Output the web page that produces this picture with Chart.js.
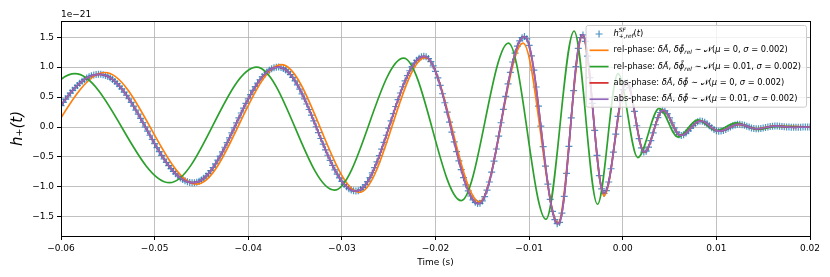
<!DOCTYPE html>
<html>
<head>
<meta charset="utf-8">
<script src="https://cdn.jsdelivr.net/npm/chart.js@4.4.1/dist/chart.umd.min.js"></script>
<style>
  html, body { margin: 0; padding: 0; background: #fff; }
  #wrap { width: 830px; height: 277px; }
</style>
</head>
<body>
<div id="wrap"><canvas id="strain" width="830" height="277"></canvas></div>
<script>
// h+ in units of 1e-21; reference waveform sampled every 0.25 ms from t = -0.06 s
const SAMPLE_START = -0.06;
const SAMPLE_STEP  = 0.00025;
const refStrain = [
  0.357, 0.412, 0.466, 0.518, 0.566, 0.612, 0.655, 0.695, 0.731, 0.763, 0.792, 0.817, 0.838, 0.855, 0.867, 0.876, 0.880,
  0.879, 0.873, 0.861, 0.844, 0.822, 0.794, 0.761, 0.723, 0.681, 0.635, 0.584, 0.530, 0.472, 0.411, 0.348, 0.282, 0.214, 0.145, 0.075, 0.003,
  -0.068, -0.138, -0.209, -0.278, -0.344, -0.410, -0.473, -0.534, -0.591, -0.645, -0.694, -0.740, -0.782, -0.818, -0.850, -0.876, -0.898, -0.914, -0.925, -0.930,
  -0.929, -0.921, -0.906, -0.884, -0.855, -0.819, -0.778, -0.730, -0.676, -0.617, -0.553, -0.486, -0.414, -0.338, -0.260, -0.180, -0.098, -0.015,
  0.068, 0.151, 0.234, 0.314, 0.393, 0.468, 0.541, 0.610, 0.675, 0.735, 0.789, 0.839, 0.881, 0.918, 0.949, 0.972, 0.988, 0.998,
  1.000, 0.993, 0.978, 0.953, 0.919, 0.877, 0.827, 0.769, 0.704, 0.632, 0.554, 0.471, 0.384, 0.292, 0.198, 0.102, 0.004,
  -0.094, -0.192, -0.287, -0.381, -0.472, -0.558, -0.640, -0.717, -0.787, -0.851, -0.908, -0.957, -0.997, -1.029, -1.052, -1.065, -1.070,
  -1.063, -1.044, -1.012, -0.967, -0.911, -0.844, -0.766, -0.678, -0.582, -0.479, -0.370, -0.256, -0.138, -0.018,
  0.103, 0.223, 0.342, 0.458, 0.568, 0.672, 0.770, 0.859, 0.939, 1.008, 1.067, 1.114, 1.149, 1.171, 1.180,
  1.173, 1.144, 1.093, 1.021, 0.929, 0.820, 0.694, 0.555, 0.405, 0.247, 0.083,
  -0.084, -0.249, -0.411, -0.567, -0.712, -0.846, -0.966, -1.068, -1.152, -1.216, -1.258, -1.278,
  -1.274, -1.234, -1.161, -1.054, -0.918, -0.755, -0.569, -0.367, -0.152, 0.071, 0.293, 0.512, 0.721, 0.913, 1.085, 1.233, 1.352, 1.439, 1.492, 1.510,
  1.473, 1.364, 1.187, 0.951, 0.668, 0.350, 0.013, -0.327, -0.654, -0.953, -1.209, -1.410, -1.548, -1.614,
  -1.594, -1.439, -1.157, -0.774, -0.325, 0.151, 0.609, 1.008, 1.312, 1.494,
  1.537, 1.430, 1.183, 0.825, 0.395, -0.056, -0.473, -0.812, -1.033, -1.110,
  -1.061, -0.918, -0.697, -0.421, -0.119, 0.176, 0.433, 0.625, 0.732,
  0.742, 0.655, 0.485, 0.261, 0.021, -0.194, -0.350, -0.418,
  -0.403, -0.336, -0.229, -0.097, 0.038, 0.157, 0.242, 0.279,
  0.269, 0.224, 0.154, 0.070, -0.014, -0.084, -0.129,
  -0.140, -0.128, -0.102, -0.064, -0.020, 0.024, 0.062, 0.088, 0.100,
  0.096, 0.080, 0.054, 0.022, -0.011, -0.040, -0.061, -0.070,
  -0.067, -0.057, -0.041, -0.021, 0.000, 0.020, 0.035, 0.044,
  0.045, 0.039, 0.028, 0.014, -0.002, -0.016, -0.025, -0.030,
  -0.029, -0.025, -0.018, -0.009, -0.001, 0.007, 0.013, 0.015,
  0.015, 0.013, 0.010, 0.006, 0.002, -0.001, -0.004, -0.005,
  -0.005, -0.004, -0.003, -0.002, -0.001, 0.000, 0.000
];

// rel-phase, mu = 0 : turning points (first two lie left of the axis)
const relMu0Time   = [-0.0768, -0.0658, -0.0553, -0.0455, -0.03645, -0.0281, -0.0211, -0.0153, -0.01065, -0.0069, -0.0043, -0.0020,
                      0.0004, 0.0023, 0.0043, 0.0062, 0.0083, 0.0103, 0.0124, 0.0143, 0.0163, 0.0200];
const relMu0Strain = [0.85, -0.88, 0.91, -0.955, 1.04, -1.09, 1.16, -1.25, 1.40, -1.60, 1.53, -1.15,
                      0.75, -0.42, 0.28, -0.14, 0.10, -0.07, 0.045, -0.03, 0.015, 0.0];

// rel-phase, mu = 0.01
const relMu1Time   = [-0.0802, -0.0692, -0.0585, -0.0484, -0.0391, -0.0308, -0.0234, -0.01725, -0.0122, -0.0082, -0.0052, -0.0027,
                      -0.0005, 0.0016, 0.0039, 0.0059, 0.0080, 0.0100, 0.0121, 0.0144, 0.0165, 0.0200];
const relMu1Strain = [0.85, -0.86, 0.89, -0.93, 1.00, -1.055, 1.15, -1.23, 1.40, -1.54, 1.60, -1.29,
                      0.89, -0.51, 0.31, -0.17, 0.12, -0.06, 0.07, -0.04, 0.01, 0.0];

const timeTicks   = [-0.06, -0.05, -0.04, -0.03, -0.02, -0.01, 0.00, 0.01, 0.02];
const strainTicks = [-1.5, -1.0, -0.5, 0.0, 0.5, 1.0, 1.5];

// legend text, split in runs: '' upright, 'i' italic, 'p' superscript, 'b' subscript, 'k' = don't advance
const legendLabels = [
  [['h', 'i'], ['SF', 'ipk'], ['+,ref', 'ib'], ['(', ''], ['t', 'i'], [')', '']],
  [['rel-phase: ', ''], ['δÃ', 'i'], [', ', ''], ['δϕ̃', 'i'], ['rel', 'ib'], [' ∼ ', ''], ['𝒩', ''], ['(', ''], ['μ', 'i'], [' = 0, ', ''], ['σ', 'i'], [' = 0.002)', '']],
  [['rel-phase: ', ''], ['δÃ', 'i'], [', ', ''], ['δϕ̃', 'i'], ['rel', 'ib'], [' ∼ ', ''], ['𝒩', ''], ['(', ''], ['μ', 'i'], [' = 0.01, ', ''], ['σ', 'i'], [' = 0.002)', '']],
  [['abs-phase: ', ''], ['δÃ', 'i'], [', ', ''], ['δϕ̃', 'i'], [' ∼ ', ''], ['𝒩', ''], ['(', ''], ['μ', 'i'], [' = 0, ', ''], ['σ', 'i'], [' = 0.002)', '']],
  [['abs-phase: ', ''], ['δÃ', 'i'], [', ', ''], ['δϕ̃', 'i'], [' ∼ ', ''], ['𝒩', ''], ['(', ''], ['μ', 'i'], [' = 0.01, ', ''], ['σ', 'i'], [' = 0.002)', '']]
];

const FONT = '"DejaVu Sans", sans-serif';
const COLORS = ['#1f77b4', '#ff7f0e', '#2ca02c', '#d62728', '#9467bd'];

const refPoints = refStrain.map((h, i) => ({ x: SAMPLE_START + i * SAMPLE_STEP, y: h }));
const toPoints  = (ts, hs) => ts.map((t, i) => ({ x: t, y: hs[i] }));

const fmt = (v, d) => (v < -1e-9 ? '\u2212' : '') + Math.abs(v).toFixed(d);

// draws (or just measures) a run list, returns end x
const drawRich = (ctx, runs, x, y, size, measureOnly) => {
  let end = x;
  runs.forEach(([txt, kind]) => {
    const sub = kind.includes('b'), sup = kind.includes('p');
    const fs = (sub || sup) ? size * 0.7 : size;
    ctx.font = `${kind.includes('i') ? 'italic ' : ''}${fs}px ${FONT}`;
    const dy = sub ? size * 0.3 : sup ? -size * 0.38 : 0;
    const w = ctx.measureText(txt).width;
    if (!measureOnly) ctx.fillText(txt, x, y + dy);
    end = Math.max(end, x + w);
    if (!kind.includes('k')) x += w;
  });
  return Math.max(end, x);
};

const decor = {
  id: 'decor',
  afterDatasetsDraw(chart) {
    const { ctx, chartArea: a } = chart;
    ctx.save();
    ctx.strokeStyle = '#000';
    ctx.lineWidth = 1;
    ctx.strokeRect(Math.round(a.left) + 0.5, Math.round(a.top) + 0.5,
                   Math.round(a.right - a.left), Math.round(a.bottom - a.top));
    ctx.restore();
  },
  afterDraw(chart) {
    const { ctx, chartArea: a } = chart;
    ctx.save();
    // offset text of the y axis
    ctx.fillStyle = '#000';
    ctx.font = `9px ${FONT}`;
    ctx.textBaseline = 'alphabetic';
    ctx.fillText('1e\u221221', a.left, a.top - 4);

    // legend box, upper right
    const size = 8.3, rowH = 16.3, handle = 19;
    let textW = 0;
    legendLabels.forEach(r => { textW = Math.max(textW, drawRich(ctx, r, 0, 0, size, true)); });
    const boxW = 4 + handle + 5 + textW + 5;
    const boxH = 9 + rowH * (legendLabels.length - 1) + 7.5;
    const bx = a.right - 4 - boxW, by = a.top + 4;
    ctx.beginPath();
    ctx.roundRect(bx + 0.5, by + 0.5, boxW, boxH, 2);
    ctx.fillStyle = 'rgba(255,255,255,0.8)';
    ctx.fill();
    ctx.strokeStyle = '#cccccc';
    ctx.lineWidth = 1;
    ctx.stroke();

    ctx.textBaseline = 'middle';
    chart.data.datasets.forEach((ds, i) => {
      const cy = by + 9 + i * rowH;
      const hx = bx + 4;
      ctx.strokeStyle = ds.borderColor;
      if (ds.showLine === false) {
        const cx = hx + handle / 2;
        ctx.lineWidth = 1.2;
        ctx.beginPath();
        ctx.moveTo(cx - 3.5, cy); ctx.lineTo(cx + 3.5, cy);
        ctx.moveTo(cx, cy - 3.5); ctx.lineTo(cx, cy + 3.5);
        ctx.stroke();
      } else {
        ctx.lineWidth = 1.7;
        ctx.beginPath();
        ctx.moveTo(hx, cy); ctx.lineTo(hx + handle, cy);
        ctx.stroke();
      }
      ctx.fillStyle = '#000';
      drawRich(ctx, legendLabels[i], hx + handle + 5, cy, size, false);
    });
    ctx.restore();
  }
};

const lineSet = (data, color, order) => ({
  data, order,
  borderColor: color,
  borderWidth: 1.7,
  pointRadius: 0,
  fill: false,
  cubicInterpolationMode: 'monotone'
});

new Chart(document.getElementById('strain'), {
  type: 'line',
  data: {
    datasets: [
      {
        data: refPoints, order: 5,
        showLine: false,
        pointStyle: 'cross', pointRadius: 3.5, pointBorderWidth: 1.2,
        borderColor: 'rgba(31,119,180,0.8)', backgroundColor: 'rgba(31,119,180,0.8)'
      },
      lineSet(toPoints(relMu0Time, relMu0Strain), COLORS[1], 4),
      lineSet(toPoints(relMu1Time, relMu1Strain), COLORS[2], 3),
      lineSet(refPoints, COLORS[3], 2),
      lineSet(refPoints, COLORS[4], 1)
    ]
  },
  options: {
    responsive: false,
    animation: false,
    devicePixelRatio: 1,
    layout: { padding: { left: 0, right: 20, top: 21, bottom: 0 } },
    plugins: { legend: { display: false }, tooltip: { enabled: false } },
    events: [],
    scales: {
      x: {
        type: 'linear', min: -0.06, max: 0.02,
        afterBuildTicks: s => { s.ticks = timeTicks.map(v => ({ value: v })); },
        afterFit: s => { s.height = 41; },
        border: { display: false },
        grid: { color: '#b0b0b0', lineWidth: 0.8, tickColor: '#000', tickLength: 4, tickWidth: 1 },
        ticks: { padding: 3, maxRotation: 0, autoSkip: false, color: '#000',
                 font: { family: FONT, size: 9 }, callback: v => fmt(v, 2) },
        title: { display: true, text: 'Time (s)', color: '#000',
                 font: { family: FONT, size: 9 }, padding: { top: 0, bottom: 9 } }
      },
      y: {
        type: 'linear', min: -1.82, max: 1.77,
        afterBuildTicks: s => { s.ticks = strainTicks.map(v => ({ value: v })); },
        afterFit: s => { s.width = 61; },
        border: { display: false },
        grid: { color: '#b0b0b0', lineWidth: 0.8, tickColor: '#000', tickLength: 4, tickWidth: 1 },
        ticks: { padding: 3, color: '#000', font: { family: FONT, size: 9 }, callback: v => fmt(v, 1) },
        title: { display: true, text: 'h\u208A(t)', color: '#000',
                 font: { family: FONT, size: 15, style: 'italic' }, padding: { top: 9, bottom: 0 } }
      }
    }
  },
  plugins: [decor]
});
</script>
</body>
</html>
